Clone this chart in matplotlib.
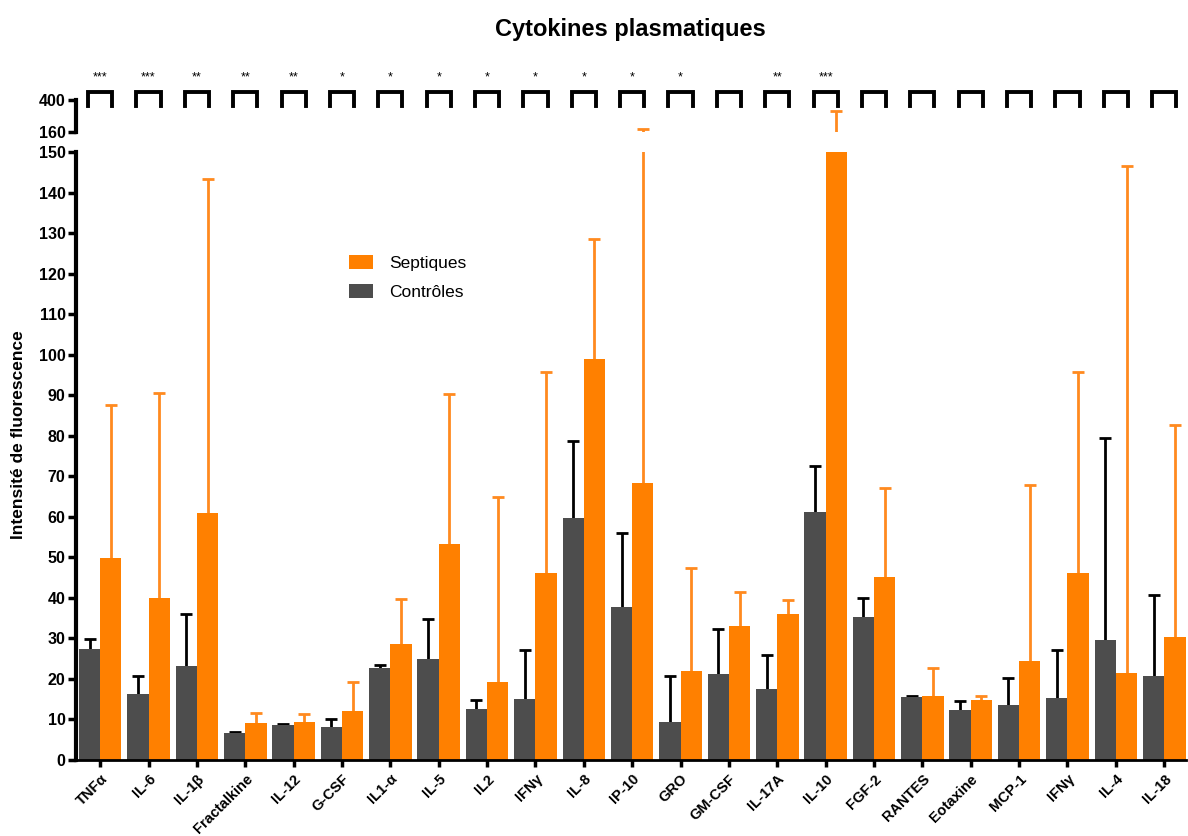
import numpy as np
import matplotlib
matplotlib.use("Agg")
import matplotlib.pyplot as plt
from matplotlib.transforms import blended_transform_factory
from matplotlib.patches import Patch

plt.rcParams['font.family'] = ['Liberation Sans', 'DejaVu Sans']

# data
cytokines = ['TNFα', 'IL-6', 'IL-1β', 'Fractalkine', 'IL-12', 'G-CSF', 'IL1-α', 'IL-5',
             'IL2', 'IFNγ', 'IL-8', 'IP-10', 'GRO', 'GM-CSF', 'IL-17A', 'IL-10', 'FGF-2',
             'RANTES', 'Eotaxine', 'MCP-1', 'IFNγ', 'IL-4', 'IL-18']
controles = [27.3, 16.3, 23.1, 6.6, 8.6, 8.1, 22.8, 25.0, 12.5, 15.1, 59.8, 37.7, 9.4,
             21.2, 17.5, 61.3, 35.3, 15.5, 12.3, 13.5, 15.2, 29.7, 20.7]
controles_top = [29.9, 20.8, 35.9, 6.9, 8.8, 10.0, 23.5, 34.9, 14.8, 27.1, 78.7, 56.0, 20.8,
                 32.2, 25.8, 72.5, 40.0, 15.7, 14.5, 20.3, 27.2, 79.5, 40.6]
septiques = [49.9, 40.0, 61.0, 9.2, 9.4, 12.0, 28.7, 53.3, 19.3, 46.1, 99.0, 68.3, 21.9,
             33.0, 35.9, 155.0, 45.2, 15.8, 14.7, 24.4, 46.1, 21.4, 30.4]
septiques_top = [87.5, 90.6, 143.4, 11.6, 11.3, 19.3, 39.8, 90.3, 65.0, 95.8, 128.5, 182.0,
                 47.3, 41.4, 39.4, 317.0, 67.2, 22.7, 15.9, 67.8, 95.8, 146.5, 82.6]
stars = ['***', '***', '**', '**', '**', '*', '*', '*', '*', '*', '*', '*', '*',
         '', '**', '***', '', '', '', '', '', '', '']

orange = '#FF8000'
grey = '#4D4D4D'

x = np.arange(len(cytokines))
w = 0.44
err_c = np.array(controles_top) - np.array(controles)
err_s = np.array(septiques_top) - np.array(septiques)

fig = plt.figure(figsize=(11.88, 8.36), dpi=100)
ax = fig.add_axes([0.06397, 0.09091, 0.93434, 0.72727])
ax_top = fig.add_axes([0.06397, 0.84211, 0.93434, 0.03828], sharex=ax)

for a in (ax, ax_top):
    a.bar(x - w / 2, controles, w, color=grey, zorder=2)
    a.bar(x + w / 2, septiques, w, color=orange, zorder=2)
    # one-sided error bars (upper only)
    for xs, ys, es, col in [(x - w / 2, controles, err_c, 'black'),
                            (x + w / 2, septiques, err_s, '#FF8A1F')]:
        _, caps, _ = a.errorbar(xs, ys, yerr=[np.zeros_like(es), es], fmt='none',
                                ecolor=col, elinewidth=2, capsize=4, capthick=2,
                                zorder=1)
        caps[0].set_visible(False)
    for s in ['top', 'right']:
        a.spines[s].set_visible(False)
    a.spines['left'].set_linewidth(3)
    a.tick_params(axis='y', width=2.5, length=6, pad=1.5, labelsize=11.5)

ax.set_xlim(-0.5, 22.45)
ax.set_ylim(0, 150)
ax.set_yticks(np.arange(0, 151, 10))
ax.spines['bottom'].set_linewidth(2)
ax.set_xticks(x)
ax.set_xticklabels(cytokines, rotation=45, ha='right', rotation_mode='anchor',
                   fontsize=10.5, fontweight='bold')
ax.tick_params(axis='x', width=2.5, length=5)
for lab in ax.get_yticklabels():
    lab.set_fontweight('bold')

ax_top.set_ylim(160, 400)
ax_top.set_yticks([160, 400])
for lab in ax_top.get_yticklabels():
    lab.set_fontweight('bold')
ax_top.spines['bottom'].set_visible(False)
ax_top.tick_params(axis='x', bottom=False, labelbottom=False)

ax.set_ylabel('Intensité de fluorescence', fontsize=12.5, fontweight='bold')
ax.yaxis.set_label_coords(-0.045, 0.535)
fig.text(0.531, 0.965, 'Cytokines plasmatiques', ha='center', va='center',
         fontsize=17, fontweight='bold')

# significance brackets
tr = blended_transform_factory(ax_top.transData, ax_top.transAxes)
for i, s in enumerate(stars):
    ax_top.plot([i - 0.25, i - 0.25, i + 0.25, i + 0.25], [0.82, 1.25, 1.25, 0.82],
                color='black', lw=2.8, transform=tr, clip_on=False,
                solid_joinstyle='miter')
    if s:
        ax_top.text(i, 1.72, s, ha='center', va='center', fontsize=9,
                    transform=tr, clip_on=False)

handles = [Patch(facecolor=orange, label='Septiques'),
           Patch(facecolor=grey, label='Contrôles')]
ax.legend(handles=handles, loc='upper left', bbox_to_anchor=(0.232, 0.857),
          frameon=False, fontsize=12.5, handlelength=1.4, handleheight=0.9,
          labelspacing=0.75, handletextpad=0.9)

fig.savefig('out.png', dpi=100)
